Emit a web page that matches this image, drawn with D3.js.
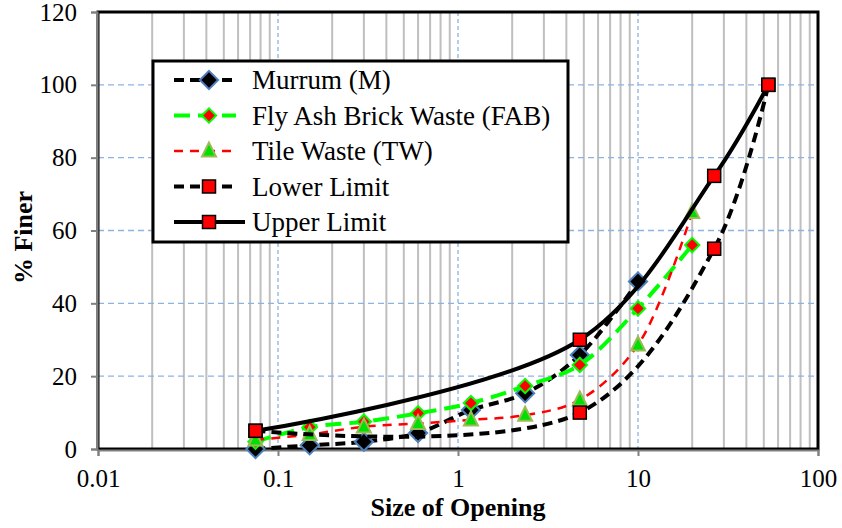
<!DOCTYPE html>
<html>
<head>
<meta charset="utf-8">
<script src="https://cdn.jsdelivr.net/npm/d3@7"></script>
<style>
  body { margin: 0; background: #fff; }
</style>
</head>
<body>
<div id="chart"></div>
<script>
const W = 842, H = 528;
const margin = { top: 12, right: 24, bottom: 79, left: 98 };
const width = W - margin.left - margin.right;
const height = H - margin.top - margin.bottom;
const FONT = "Liberation Serif, Times New Roman, DejaVu Serif, serif";

// sieve sizes (mm) and % finer values
const sizesMurrum = [0.075, 0.15, 0.3, 0.6, 1.18, 2.36, 4.75, 10];
const murrum = [0, 1, 2, 4.4, 10.7, 15.3, 25.8, 46];
const sizesFab = [0.075, 0.15, 0.3, 0.6, 1.18, 2.36, 4.75, 10, 20];
const fab = [2, 6, 7.5, 9.8, 12.6, 17.3, 23.1, 38.6, 56];
const tile = [2.5, 4, 6.1, 7, 8, 9.3, 13.5, 28.6, 65];
const sizesLimit = [0.075, 4.75, 26.5, 53];
const lowerLimit = [5, 10, 55, 100];
const upperLimit = [5, 30, 75, 100];

const xTicks = [0.01, 0.1, 1, 10, 100];
const yTicks = [0, 20, 40, 60, 80, 100, 120];

const series = [
  { name: "Murrum (M)", xs: sizesMurrum, ys: murrum, color: "#000", lw: 4, dash: "10,6", marker: "diamond", mfill: "#000", mstroke: "#4f81bd", msize: 7 },
  { name: "Fly Ash Brick Waste (FAB)", xs: sizesFab, ys: fab, color: "#00ff00", lw: 4, dash: "16,8", marker: "diamond", mfill: "#ff0000", mstroke: "#00ff00", msize: 5.5 },
  { name: "Tile Waste (TW)", xs: sizesFab, ys: tile, color: "#ff0000", lw: 2.5, dash: "9,7", marker: "triangle", mfill: "#00e000", mstroke: "#9bbb59", msize: 7 },
  { name: "Lower Limit", xs: sizesLimit, ys: lowerLimit, color: "#000", lw: 4, dash: "10,6", marker: "square", mfill: "#ff0000", mstroke: "#000", msize: 6.5 },
  { name: "Upper Limit", xs: sizesLimit, ys: upperLimit, color: "#000", lw: 4, dash: null, marker: "square", mfill: "#ff0000", mstroke: "#000", msize: 6.5 }
];

const svg = d3.select("#chart").append("svg")
  .attr("width", W).attr("height", H)
  .attr("font-family", FONT);
const g = svg.append("g").attr("transform", `translate(${margin.left},${margin.top})`);

const x = d3.scaleLog().domain([0.01, 100]).range([0, width]);
const y = d3.scaleLinear().domain([0, 120]).range([height, 0]);

// minor vertical grid
const minor = [];
[0.01, 0.1, 1, 10].forEach(d => { for (let k = 2; k <= 9; k++) minor.push(d * k); });
g.selectAll(".vminor").data(minor).enter().append("line")
  .attr("x1", d => x(d)).attr("x2", d => x(d))
  .attr("y1", 0).attr("y2", height)
  .attr("stroke", "#bfbfbf").attr("stroke-width", 2);

// major grid (dashed blue)
g.selectAll(".vmajor").data([0.1, 1, 10]).enter().append("line")
  .attr("x1", d => x(d)).attr("x2", d => x(d))
  .attr("y1", 0).attr("y2", height)
  .attr("stroke", "#8db3e2").attr("stroke-width", 1.3).attr("stroke-dasharray", "4,3");
g.selectAll(".hmajor").data([20, 40, 60, 80, 100]).enter().append("line")
  .attr("x1", 0).attr("x2", width)
  .attr("y1", d => y(d)).attr("y2", d => y(d))
  .attr("stroke", "#8db3e2").attr("stroke-width", 1.3).attr("stroke-dasharray", "6,4");

// frame
g.append("rect").attr("width", width).attr("height", height)
  .attr("fill", "none").attr("stroke", "#000").attr("stroke-width", 3);

// axes
const xAxis = d3.axisBottom(x).tickValues(xTicks).tickFormat(d => String(d)).tickSize(6).tickPadding(13);
const yAxis = d3.axisLeft(y).tickValues(yTicks).tickSize(6).tickPadding(14);
const gx = g.append("g").attr("transform", `translate(0,${height + 1})`).call(xAxis);
const gy = g.append("g").attr("transform", "translate(-1,0)").call(yAxis);
[gx, gy].forEach(a => {
  a.attr("font-family", FONT).attr("font-size", 25);
  a.selectAll("path,line").attr("stroke", "#808080").attr("stroke-width", 2);
  a.selectAll("text").attr("fill", "#000");
});

// lines
const line = d3.line().x(d => x(d[0])).y(d => y(d[1])).curve(d3.curveCatmullRom.alpha(0.5));

function drawMarker(sel, s, cx, cy) {
  const r = s.msize;
  let el;
  if (s.marker === "diamond") {
    el = sel.append("path").attr("d", `M${cx},${cy - r * 1.3}L${cx + r * 1.3},${cy}L${cx},${cy + r * 1.3}L${cx - r * 1.3},${cy}Z`);
  } else if (s.marker === "square") {
    el = sel.append("rect").attr("x", cx - r).attr("y", cy - r).attr("width", 2 * r).attr("height", 2 * r);
  } else {
    el = sel.append("path").attr("d", `M${cx},${cy - r * 1.2}L${cx + r},${cy + r * 0.8}L${cx - r},${cy + r * 0.8}Z`);
  }
  el.attr("fill", s.mfill).attr("stroke", s.mstroke).attr("stroke-width", s.marker === "square" ? 1.5 : 2);
}

series.forEach(s => {
  const pts = s.xs.map((v, i) => [v, s.ys[i]]);
  g.append("path").datum(pts)
    .attr("d", line)
    .attr("fill", "none")
    .attr("stroke", s.color)
    .attr("stroke-width", s.lw)
    .attr("stroke-dasharray", s.dash);
  const mg = g.append("g");
  pts.forEach(p => drawMarker(mg, s, x(p[0]), y(p[1])));
});

// legend
const lg = svg.append("g").attr("transform", "translate(153,61)");
lg.append("rect").attr("width", 415).attr("height", 181)
  .attr("fill", "#fff").attr("stroke", "#000").attr("stroke-width", 3);
series.forEach((s, i) => {
  const cy = 19 + i * 35.5;
  lg.append("line").attr("x1", 21).attr("x2", s.name === "Upper Limit" ? 92 : 83)
    .attr("y1", cy).attr("y2", cy)
    .attr("stroke", s.color).attr("stroke-width", s.lw)
    .attr("stroke-dasharray", s.dash);
  drawMarker(lg, s, 56, cy);
  lg.append("text").attr("x", 99).attr("y", cy + 9)
    .attr("font-family", FONT).attr("font-size", 27).text(s.name);
});

// axis titles
svg.append("text").attr("x", margin.left + x(1)).attr("y", 516)
  .attr("text-anchor", "middle").attr("font-size", 26).attr("font-weight", "bold")
  .text("Size of Opening");
svg.append("text").attr("transform", `translate(32,${margin.top + height / 2 + 7}) rotate(-90)`)
  .attr("text-anchor", "middle").attr("font-size", 26).attr("font-weight", "bold")
  .text("% Finer");
</script>
</body>
</html>
